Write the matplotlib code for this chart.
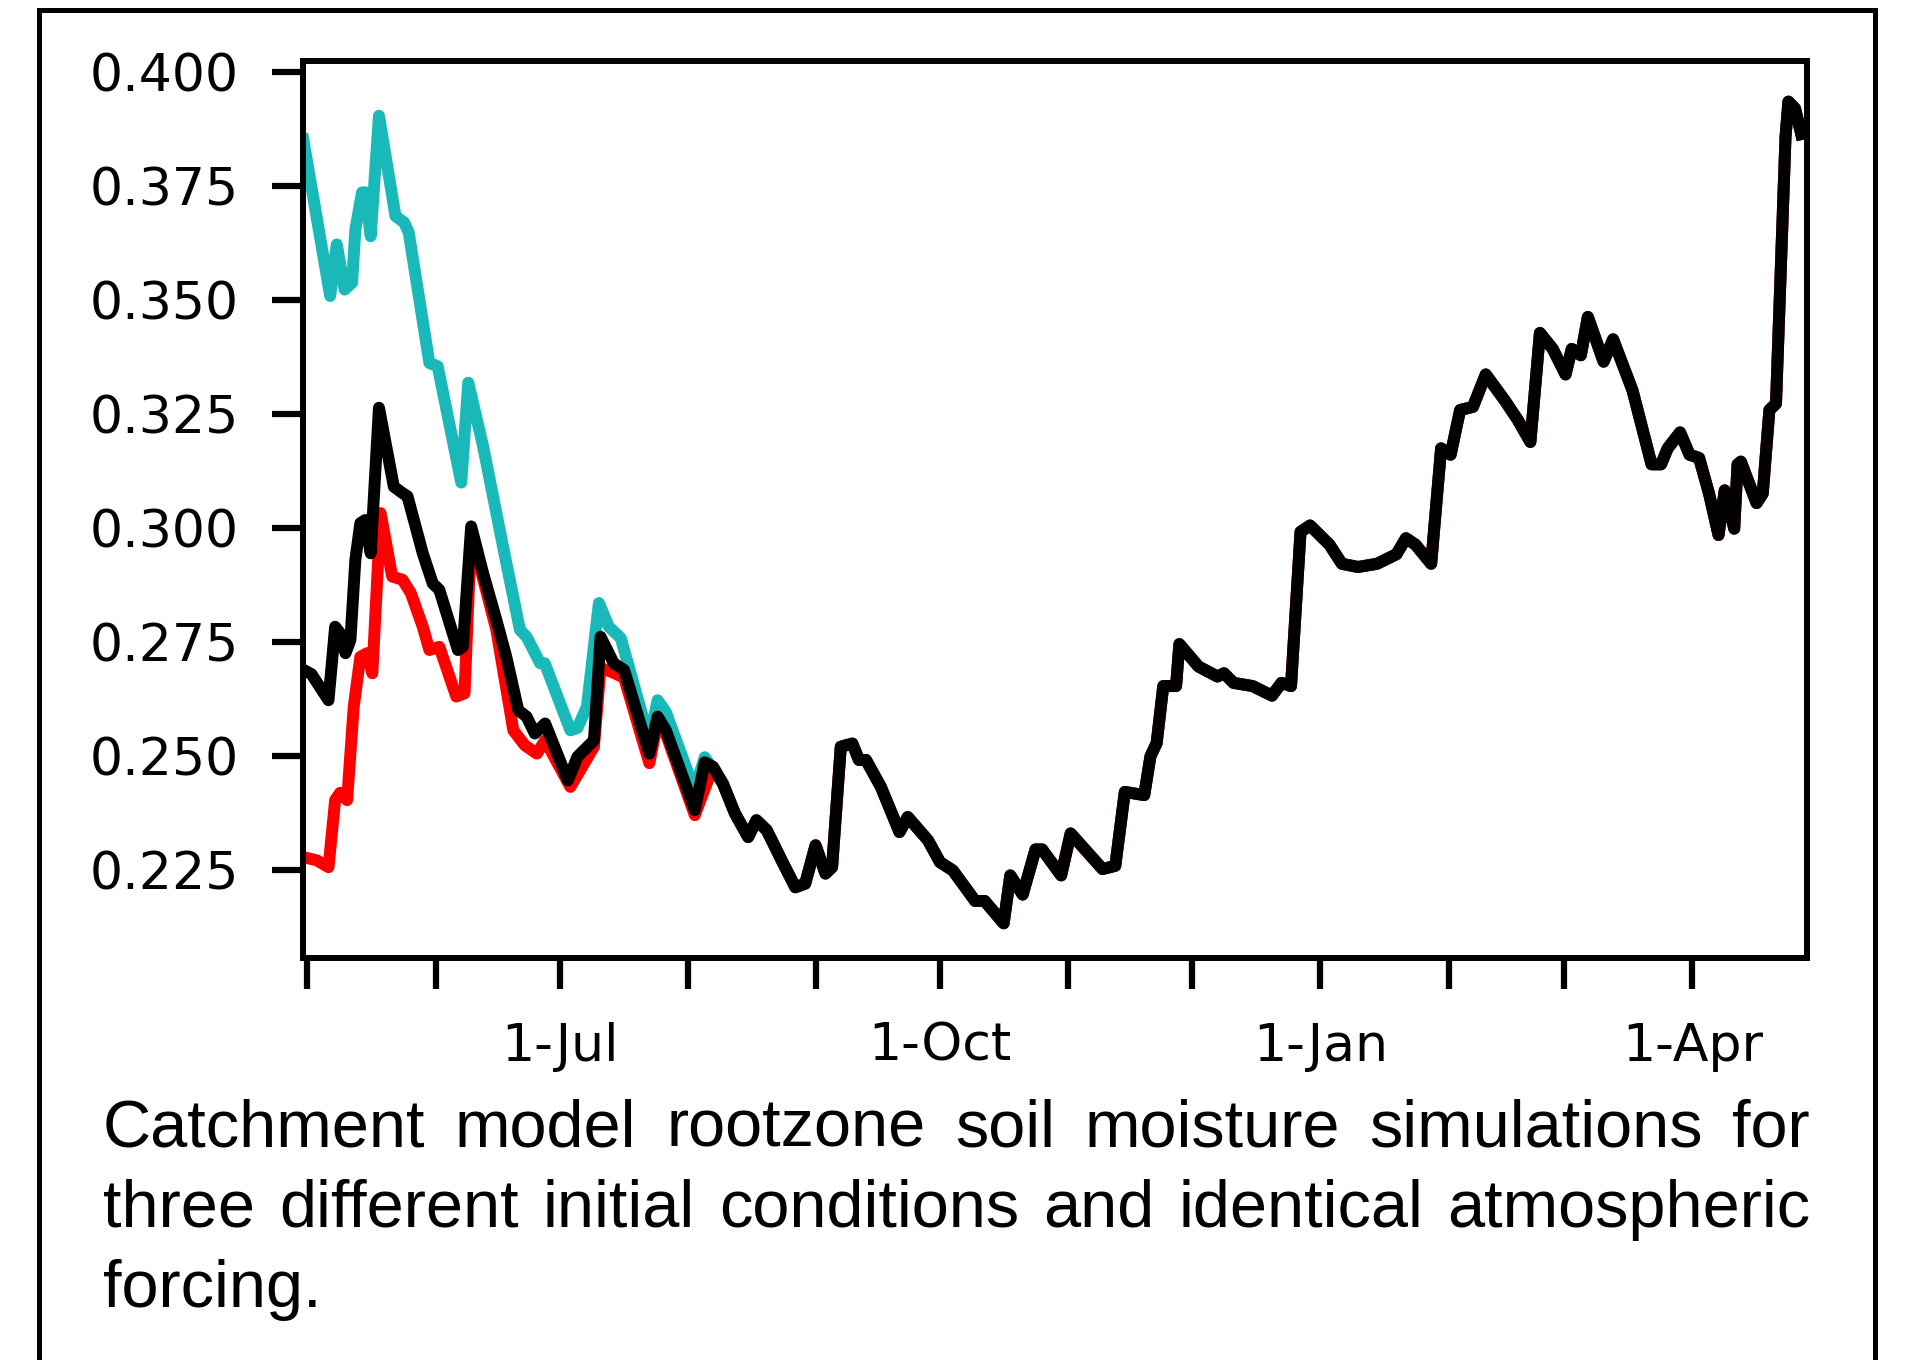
import datetime as dt
import numpy as np
import matplotlib
matplotlib.use('Agg')
import matplotlib.pyplot as plt
import matplotlib.dates as mdates
from matplotlib.ticker import FuncFormatter
from matplotlib.patches import Rectangle

# days counted from 1 May, values are rootzone soil moisture
black_days = [-1, 1.0, 5.1, 6.7, 7.9, 9.2, 10.4, 11.6, 12.8, 14.0,
              15.3, 17.3, 20.9, 23.0, 24.2, 27.9, 30.3, 31.9, 36.4, 37.6,
              39.6, 42.5, 45.7, 48.1, 51.0, 53.0, 55.0, 57.5, 63.0, 65.3,
              69.3, 70.9, 74.1, 76.6, 82.7, 84.7, 86.7, 93.7, 96.1, 98.1,
              100.5, 103.4, 106.6, 108.6, 111.1, 114.7, 118.0, 120.4, 122.9, 125.3,
              126.9, 129.0, 131.8, 133.4, 135.1, 138.7, 143.2, 145.2, 150.1, 153.0,
              156.1, 161.5, 163.8, 168.4, 170.0, 173.0, 176.1, 177.7, 182.3, 184.6,
              192.3, 195.4, 197.7, 202.4, 203.9, 205.4, 207.0, 210.1, 210.9, 215.5,
              220.1, 221.7, 224.0, 228.6, 233.3, 235.6, 237.9, 240.2, 242.5, 247.2,
              250.2, 254.1, 258.7, 263.4, 265.7, 268.0, 271.8, 274.2, 276.5, 278.8,
              281.9, 285.0, 289.6, 292.7, 295.8, 298.1, 301.2, 304.3, 305.8, 308.0,
              309.7, 313.5, 315.8, 320.5, 325.1, 327.4, 329.0, 332.0, 334.3, 336.6,
              339.0, 341.3, 342.8, 345.1, 345.9, 346.7, 350.5, 352.0, 353.6, 355.2,
              357.5, 358.2, 359.8, 361.3]
black_vals = [0.269, 0.268, 0.2623, 0.2784, 0.277, 0.2726, 0.2755, 0.2931, 0.3011, 0.3018,
              0.2945, 0.3264, 0.3091, 0.3077, 0.307, 0.2945, 0.2879, 0.2865, 0.2733, 0.274,
              0.3004, 0.2901, 0.2799, 0.2718, 0.2601, 0.2587, 0.255, 0.2572, 0.2447, 0.2499,
              0.2535, 0.2762, 0.2704, 0.2689, 0.2506, 0.2587, 0.2557, 0.2382, 0.2487, 0.2477,
              0.244, 0.2375, 0.2323, 0.236, 0.2338, 0.2272, 0.2213, 0.2221, 0.2305, 0.2243,
              0.2257, 0.2521, 0.2528, 0.2492, 0.2492, 0.2433, 0.2334, 0.2367, 0.2316, 0.2268,
              0.225, 0.2183, 0.2183, 0.2134, 0.2239, 0.2197, 0.2296, 0.2296, 0.2239, 0.2331,
              0.2253, 0.226, 0.2422, 0.2415, 0.25, 0.2529, 0.2654, 0.2654, 0.2746, 0.2697,
              0.2675, 0.2682, 0.2661, 0.2654, 0.2633, 0.2661, 0.2654, 0.2992, 0.3006, 0.2964,
              0.2922, 0.2915, 0.2922, 0.2943, 0.2978, 0.2964, 0.2922, 0.3175, 0.3161, 0.3259,
              0.3266, 0.3337, 0.328, 0.3238, 0.3189, 0.3428, 0.3393, 0.3337, 0.3393, 0.3379,
              0.3463, 0.3365, 0.3414, 0.3302, 0.314, 0.314, 0.3175, 0.321, 0.3161, 0.3154,
              0.3076, 0.2985, 0.3083, 0.2999, 0.314, 0.3146, 0.3055, 0.3076, 0.3259, 0.3273,
              0.3857, 0.3935, 0.392, 0.3864]

# wet start (cyan) until it joins the black run
cyan_days = [-1, 5.5, 7.1, 9.0, 10.8, 11.6, 13.2, 14.0, 15.3, 17.3,
             21.3, 23.4, 24.5, 29.5, 31.5, 37.2, 38.9, 42.5, 47.3, 51.4,
             53.0, 56.3, 57.4, 63.6, 65.3, 67.6, 70.5, 72.9, 75.8, 82.7,
             84.7, 86.7, 93.6, 96.1]
cyan_vals = [0.3852, 0.3509, 0.3622, 0.3523, 0.3538, 0.3655, 0.3736, 0.3736, 0.364, 0.3904,
             0.3684, 0.367, 0.3648, 0.3362, 0.3355, 0.31, 0.3319, 0.3179, 0.296, 0.2777,
             0.2762, 0.2704, 0.2704, 0.2557, 0.2562, 0.2609, 0.2836, 0.2784, 0.2759, 0.2535,
             0.2623, 0.2597, 0.2426, 0.2498]

# dry start (red) until it joins the black run
red_days = [-1, 2.3, 5.1, 6.7, 7.9, 9.6, 11.2, 12.8, 14.4, 15.7,
            17.7, 20.5, 23.0, 25.0, 27.9, 29.5, 31.9, 36.0, 38.0, 39.6,
            45.7, 49.8, 52.6, 55.5, 57.5, 63.6, 69.3, 70.9, 74.1, 76.6,
            82.7, 84.7, 86.7, 93.7]
red_vals = [0.2279, 0.2272, 0.2257, 0.2404, 0.242, 0.2404, 0.2609, 0.2718, 0.2726, 0.2682,
            0.3033, 0.2894, 0.2887, 0.2858, 0.2784, 0.2733, 0.274, 0.2631, 0.2638, 0.299,
            0.2777, 0.2557, 0.2524, 0.2506, 0.2535, 0.2433, 0.2521, 0.2694, 0.2683, 0.2672,
            0.2485, 0.2575, 0.2549, 0.2371]

y_ticks = [0.225, 0.250, 0.275, 0.300, 0.325, 0.350, 0.375, 0.400]

caption_lines = ["Catchment model rootzone soil moisture simulations for",
                 "three different initial conditions and identical atmospheric",
                 "forcing."]

W, H = 1905, 1360
t0 = mdates.date2num(dt.datetime(2002, 5, 1))

fig = plt.figure(figsize=(W / 100, H / 100), dpi=100)
ax = fig.add_axes([303 / W, 1 - 958 / H, (1807 - 303) / W, (958 - 61) / H])

cx = t0 + np.array(cyan_days + black_days[40:])
cy = np.array(cyan_vals + black_vals[40:])
rx = t0 + np.array(red_days + black_days[39:])
ry = np.array(red_vals + black_vals[39:])
bx = t0 + np.array(black_days)
by = np.array(black_vals)

ax.plot(cx, cy, color='#1ab9b9', lw=8.6, solid_joinstyle='round')
ax.plot(rx, ry, color='#ff0000', lw=8.6, solid_joinstyle='round')
ax.plot(bx, by, color='black', lw=8.6, solid_joinstyle='round')

ax.set_xlim(t0 - 1.07, t0 + 362.7)
ax.set_ylim(0.2058, 0.4024)
ax.set_yticks(y_ticks)
ax.yaxis.set_major_formatter(FuncFormatter(lambda v, p: '%.3f' % v))

ax.xaxis.set_major_locator(mdates.MonthLocator(bymonth=[1, 4, 7, 10]))
ax.xaxis.set_minor_locator(mdates.MonthLocator())


def month_label(v, pos):
    d = mdates.num2date(v)
    return '%d-%s' % (d.day, d.strftime('%b'))


ax.xaxis.set_major_formatter(FuncFormatter(month_label))
ax.tick_params(which='both', direction='out', length=22, width=4.5, pad=24,
               labelsize=37.5, colors='black')
for s in ax.spines.values():
    s.set_linewidth(4.3)

# outer box around figure and caption
fig.add_artist(Rectangle((39 / W, -0.05), (1875 - 39) / W, 1.05 - 10 / H,
                         transform=fig.transFigure, fill=False,
                         ec='black', lw=3.6))

# justified caption, word by word
fig.canvas.draw()
renderer = fig.canvas.get_renderer()
x_left, x_right = 103, 1810
baselines = [1146.7, 1226.7, 1306.7]
for i, line in enumerate(caption_lines):
    words = line.split()
    texts = [fig.text(0, 1 - baselines[i] / H, w, fontsize=48,
                      family='Liberation Sans', va='baseline', ha='left')
             for w in words]
    widths = [t.get_window_extent(renderer).width for t in texts]
    if i < len(caption_lines) - 1 and len(words) > 1:
        gap = (x_right - x_left - sum(widths)) / (len(words) - 1)
    else:
        gap = 18.5
    x = x_left
    for t, w in zip(texts, widths):
        t.set_x(x / W)
        x += w + gap

fig.savefig('out.png', dpi=100)
